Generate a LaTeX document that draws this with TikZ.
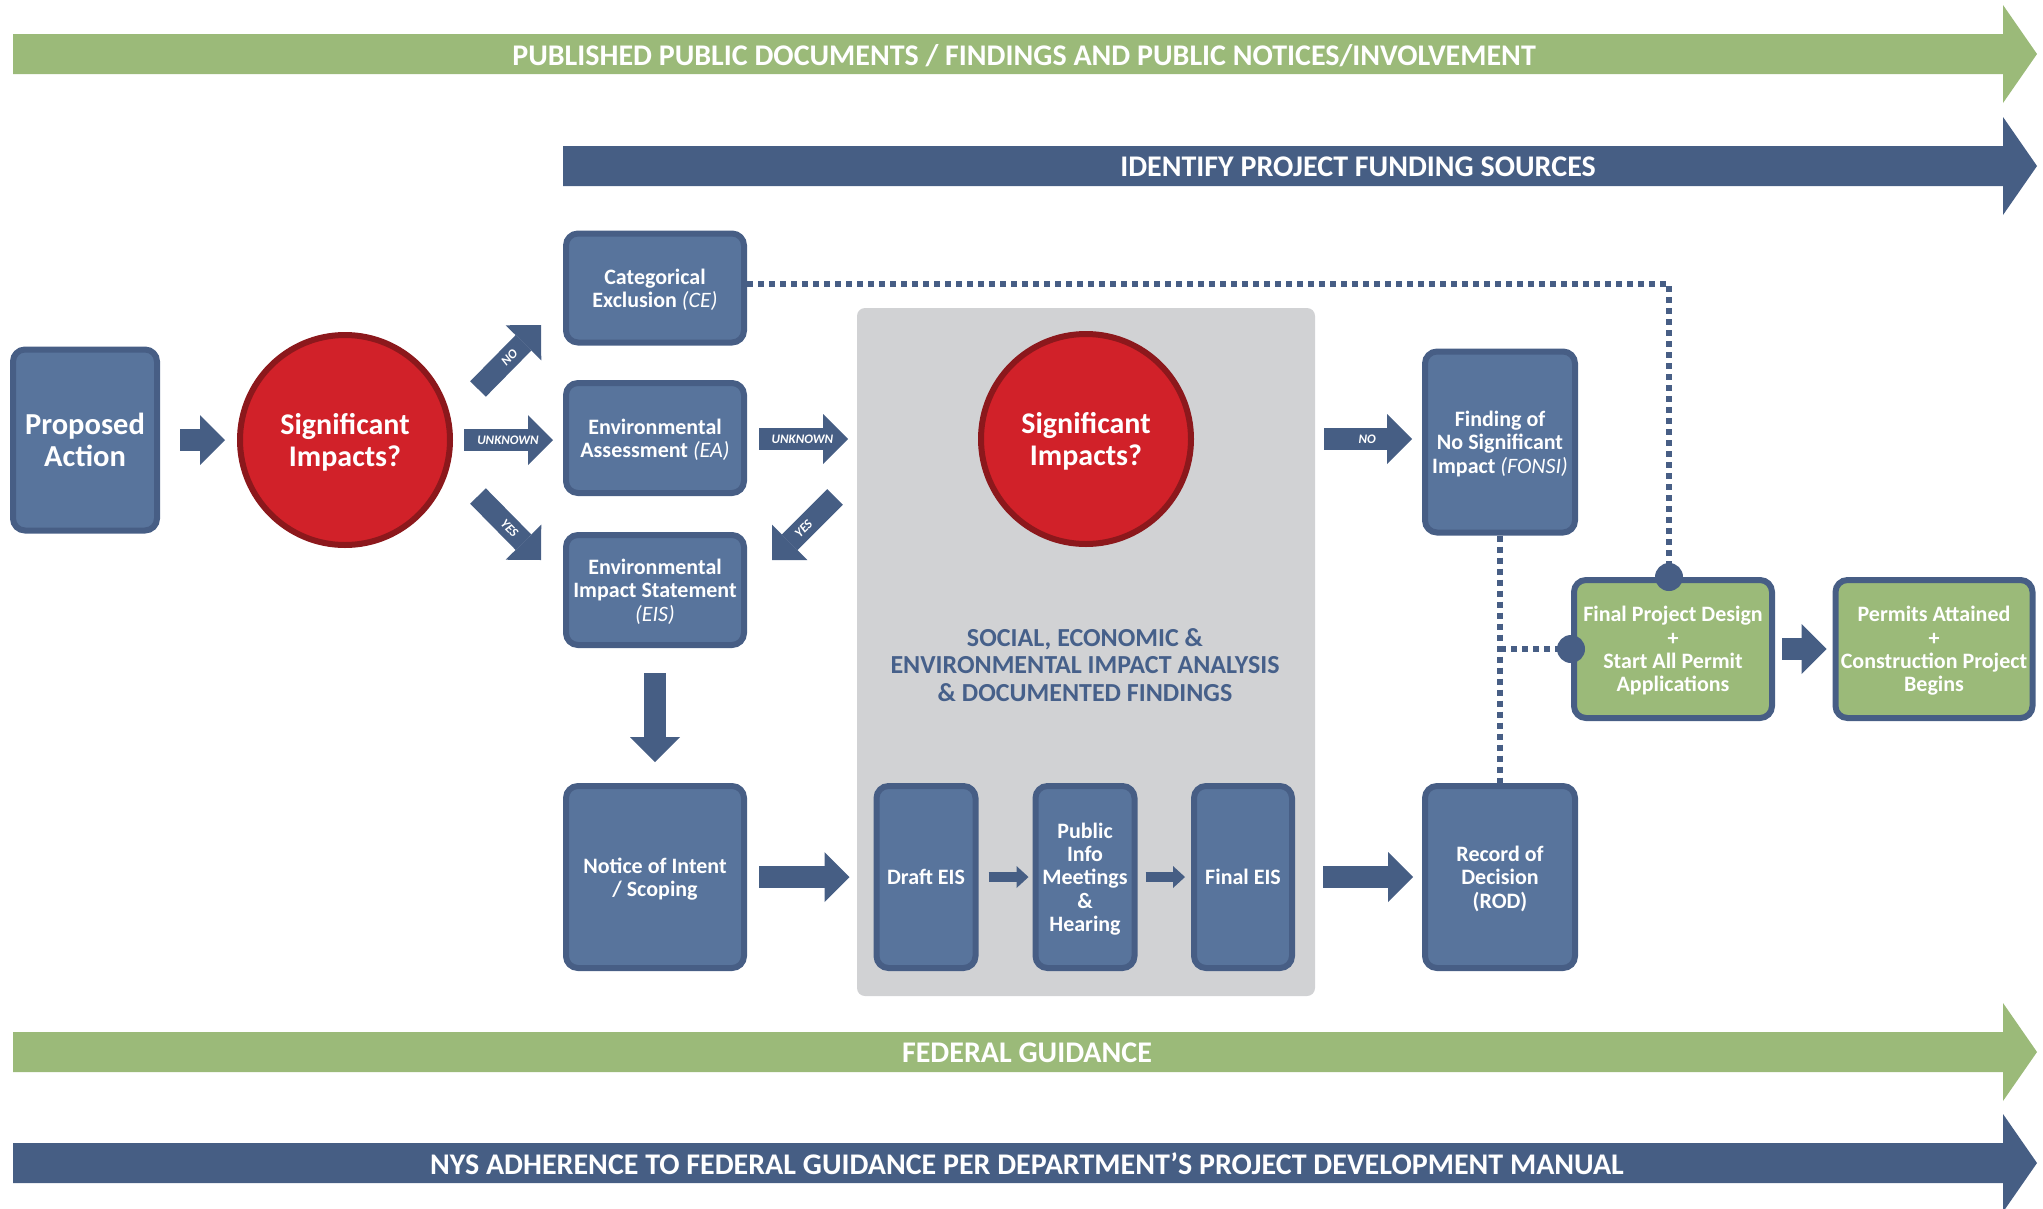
\documentclass[tikz,border=0pt]{standalone}
\usepackage{fontspec}
\setmainfont{Carlito}
\usepackage{xcolor}
\usepackage{tikz}
\usetikzlibrary{
  positioning,
  arrows.meta,
  calc
}
\definecolor{boxblue}{HTML}{58749C}
\definecolor{edgeblue}{HTML}{475E85}
\definecolor{arrowblue}{HTML}{465E84}
\definecolor{leafgreen}{HTML}{9BBA79}
\definecolor{sigred}{HTML}{D12129}
\definecolor{darkred}{HTML}{8C181C}
\definecolor{panelgray}{HTML}{D1D2D4}
\definecolor{textblue}{HTML}{46608A}
\newcommand{\abbr}[1]{{\mdseries\itshape #1}}
% band arrow: x start, y centre, colour
\newcommand{\bandarrow}[3]{%
  \fill[#3] (#1,#2-20) -- (2003,#2-20) -- (2003,#2-49) -- (2037,#2)
    -- (2003,#2+49) -- (2003,#2+20) -- (#1,#2+20) -- cycle;}
\tikzset{
  >=Latex,
  stepbox/.style={rectangle,draw=edgeblue,fill=boxblue,line width=6pt,rounded corners=12pt,text=white,align=center,inner sep=2pt,text depth=0pt,font=\fontsize{22}{23.3}\selectfont\bfseries},
  greenbox/.style={stepbox,fill=leafgreen},
  decision/.style={circle,draw=darkred,fill=sigred,line width=6pt,minimum size=210pt,text=white,align=center,text depth=0pt,font=\fontsize{30}{32.5}\selectfont\bfseries},
  fatarrow/.style={draw=arrowblue,line width=22pt,-{Triangle[length=25pt,width=50pt,line width=0pt]}},
  thinarrow/.style={draw=arrowblue,line width=10pt,-{Triangle[length=12pt,width=22pt,line width=0pt]}},
  arrowlabel/.style={text=white,font=\fontsize{13}{14}\selectfont\bfseries\itshape,inner sep=0pt},
  dotline/.style={draw=edgeblue,line width=6pt,dash pattern=on 6pt off 5pt},
  bandtext/.style={text=white,text depth=0pt,font=\fontsize{30}{32}\selectfont\bfseries}
}

\begin{document}
\begin{tikzpicture}[x=1pt,y=-1pt]
    \useasboundingbox (0,0) rectangle (2043,1208);

    % Bands
    \bandarrow{13}{54}{leafgreen}
    \node[bandtext] (pubdocs) at (1024,55) {PUBLISHED PUBLIC DOCUMENTS / FINDINGS AND PUBLIC NOTICES/INVOLVEMENT};
    \bandarrow{563}{166}{arrowblue}
    \node[bandtext] (funding) at (1358,167) {IDENTIFY PROJECT FUNDING SOURCES};
    \bandarrow{13}{1052}{leafgreen}
    \node[bandtext] (fedguide) at (1027,1053) {FEDERAL GUIDANCE};
    \bandarrow{13}{1163}{arrowblue}
    \node[bandtext] (nysmanual) at (1027,1164) {NYS ADHERENCE TO FEDERAL GUIDANCE PER DEPARTMENT’S PROJECT DEVELOPMENT MANUAL};

    % Analysis panel
    \node[fill=panelgray,rounded corners=8pt,minimum width=458pt,minimum height=688pt,inner sep=0pt] (panel) at (1086,652) {};
    \node[text=textblue,align=center,font=\fontsize{26}{27.4}\selectfont\bfseries] (social) at (1085,665) {SOCIAL, ECONOMIC \&\\ENVIRONMENTAL IMPACT ANALYSIS\\\& DOCUMENTED FINDINGS};

    % Steps
    \node[stepbox,minimum width=144pt,minimum height=181pt,font=\fontsize{30.5}{32.5}\selectfont\bfseries] (prop) at (85,440) {Proposed\\Action};
    \node[decision] (sig1) at (345,440) {Significant\\Impacts?};
    \node[stepbox,minimum width=178pt,minimum height=109pt] (ce) at (655,288) {Categorical\\Exclusion \abbr{(CE)}};
    \node[stepbox,minimum width=178pt,minimum height=110pt] (ea) at (655,438) {Environmental\\Assessment \abbr{(EA)}};
    \node[stepbox,minimum width=178pt,minimum height=110pt] (eis) at (655,590) {Environmental\\Impact Statement\\\abbr{(EIS)}};
    \node[stepbox,minimum width=178pt,minimum height=182pt] (noi) at (655,877) {Notice of Intent\\/ Scoping};
    \node[decision] (sig2) at (1086,439) {Significant\\Impacts?};
    \node[stepbox,minimum width=99pt,minimum height=182pt] (draft) at (926,877) {Draft EIS};
    \node[stepbox,minimum width=99pt,minimum height=182pt] (pubinfo) at (1085,877) {Public\\Info\\Meetings\\\&\\Hearing};
    \node[stepbox,minimum width=98pt,minimum height=182pt] (feis) at (1243,877) {Final EIS};
    \node[stepbox,minimum width=150pt,minimum height=181pt] (fonsi) at (1500,442) {Finding of\\No Significant\\Impact \abbr{(FONSI)}};
    \node[stepbox,minimum width=150pt,minimum height=182pt] (rod) at (1500,877) {Record of\\Decision\\(ROD)};
    \node[greenbox,minimum width=198pt,minimum height=138pt] (fdesign) at (1673,649) {Final Project Design\\+\\Start All Permit\\Applications};
    \node[greenbox,minimum width=197pt,minimum height=138pt] (permits) at (1934,649) {Permits Attained\\+\\Construction Project\\Begins};

    % Diagonal arrow ends and dots
    \coordinate (no1) at (478,389);
    \coordinate (no1tip) at (541,325);
    \coordinate (yes1) at (478,496);
    \coordinate (yes1tip) at (541,560);
    \coordinate (yes2) at (835,497);
    \coordinate (yes2tip) at (772,560);
    \coordinate (topdot) at ([xshift=-4pt]fdesign.north);

    % Flow
    \draw[fatarrow,shorten <=20pt,shorten >=12pt] (prop) -- (sig1);
    \draw[fatarrow] (no1) -- (no1tip) node[midway,sloped,arrowlabel] {NO};
    \draw[fatarrow,shorten <=11pt,shorten >=10pt] (sig1.east) -- (sig1.east -| ea.west) node[midway,arrowlabel] {UNKNOWN};
    \draw[fatarrow] (yes1) -- (yes1tip) node[midway,sloped,arrowlabel] {YES};
    \draw[fatarrow,shorten <=12pt,shorten >=130pt] (ea.east |- sig2) -- (sig2.west) node[pos=.24,arrowlabel] {UNKNOWN};
    \draw[fatarrow] (yes2) -- (yes2tip) node[midway,sloped,arrowlabel] {YES};
    \draw[fatarrow,shorten <=130pt,shorten >=10pt] (sig2.east) -- (sig2.east -| fonsi.west) node[pos=.76,arrowlabel] {NO};
    \draw[fatarrow,shorten <=25pt,shorten >=21pt] (eis) -- (noi);
    \draw[fatarrow,shorten <=12pt,shorten >=24pt] (noi) -- (draft);
    \draw[thinarrow,shorten <=10pt,shorten >=4pt] (draft) -- (pubinfo);
    \draw[thinarrow,shorten <=8pt,shorten >=6pt] (pubinfo) -- (feis);
    \draw[fatarrow,shorten <=28pt,shorten >=9pt] (feis) -- (rod);
    \draw[fatarrow,shorten <=7pt,shorten >=6pt] (fdesign) -- (permits);

    % Dotted links
    \draw[dotline] ([yshift=4pt]ce.east) -| (topdot);
    \draw[dotline] (fonsi.south) -- (rod.north);
    \draw[dotline] (fonsi.south |- fdesign.west) -- (fdesign.west);
    \fill[edgeblue] (topdot) circle (14pt);
    \fill[edgeblue] (fdesign.west) circle (14pt);
\end{tikzpicture}
\end{document}
